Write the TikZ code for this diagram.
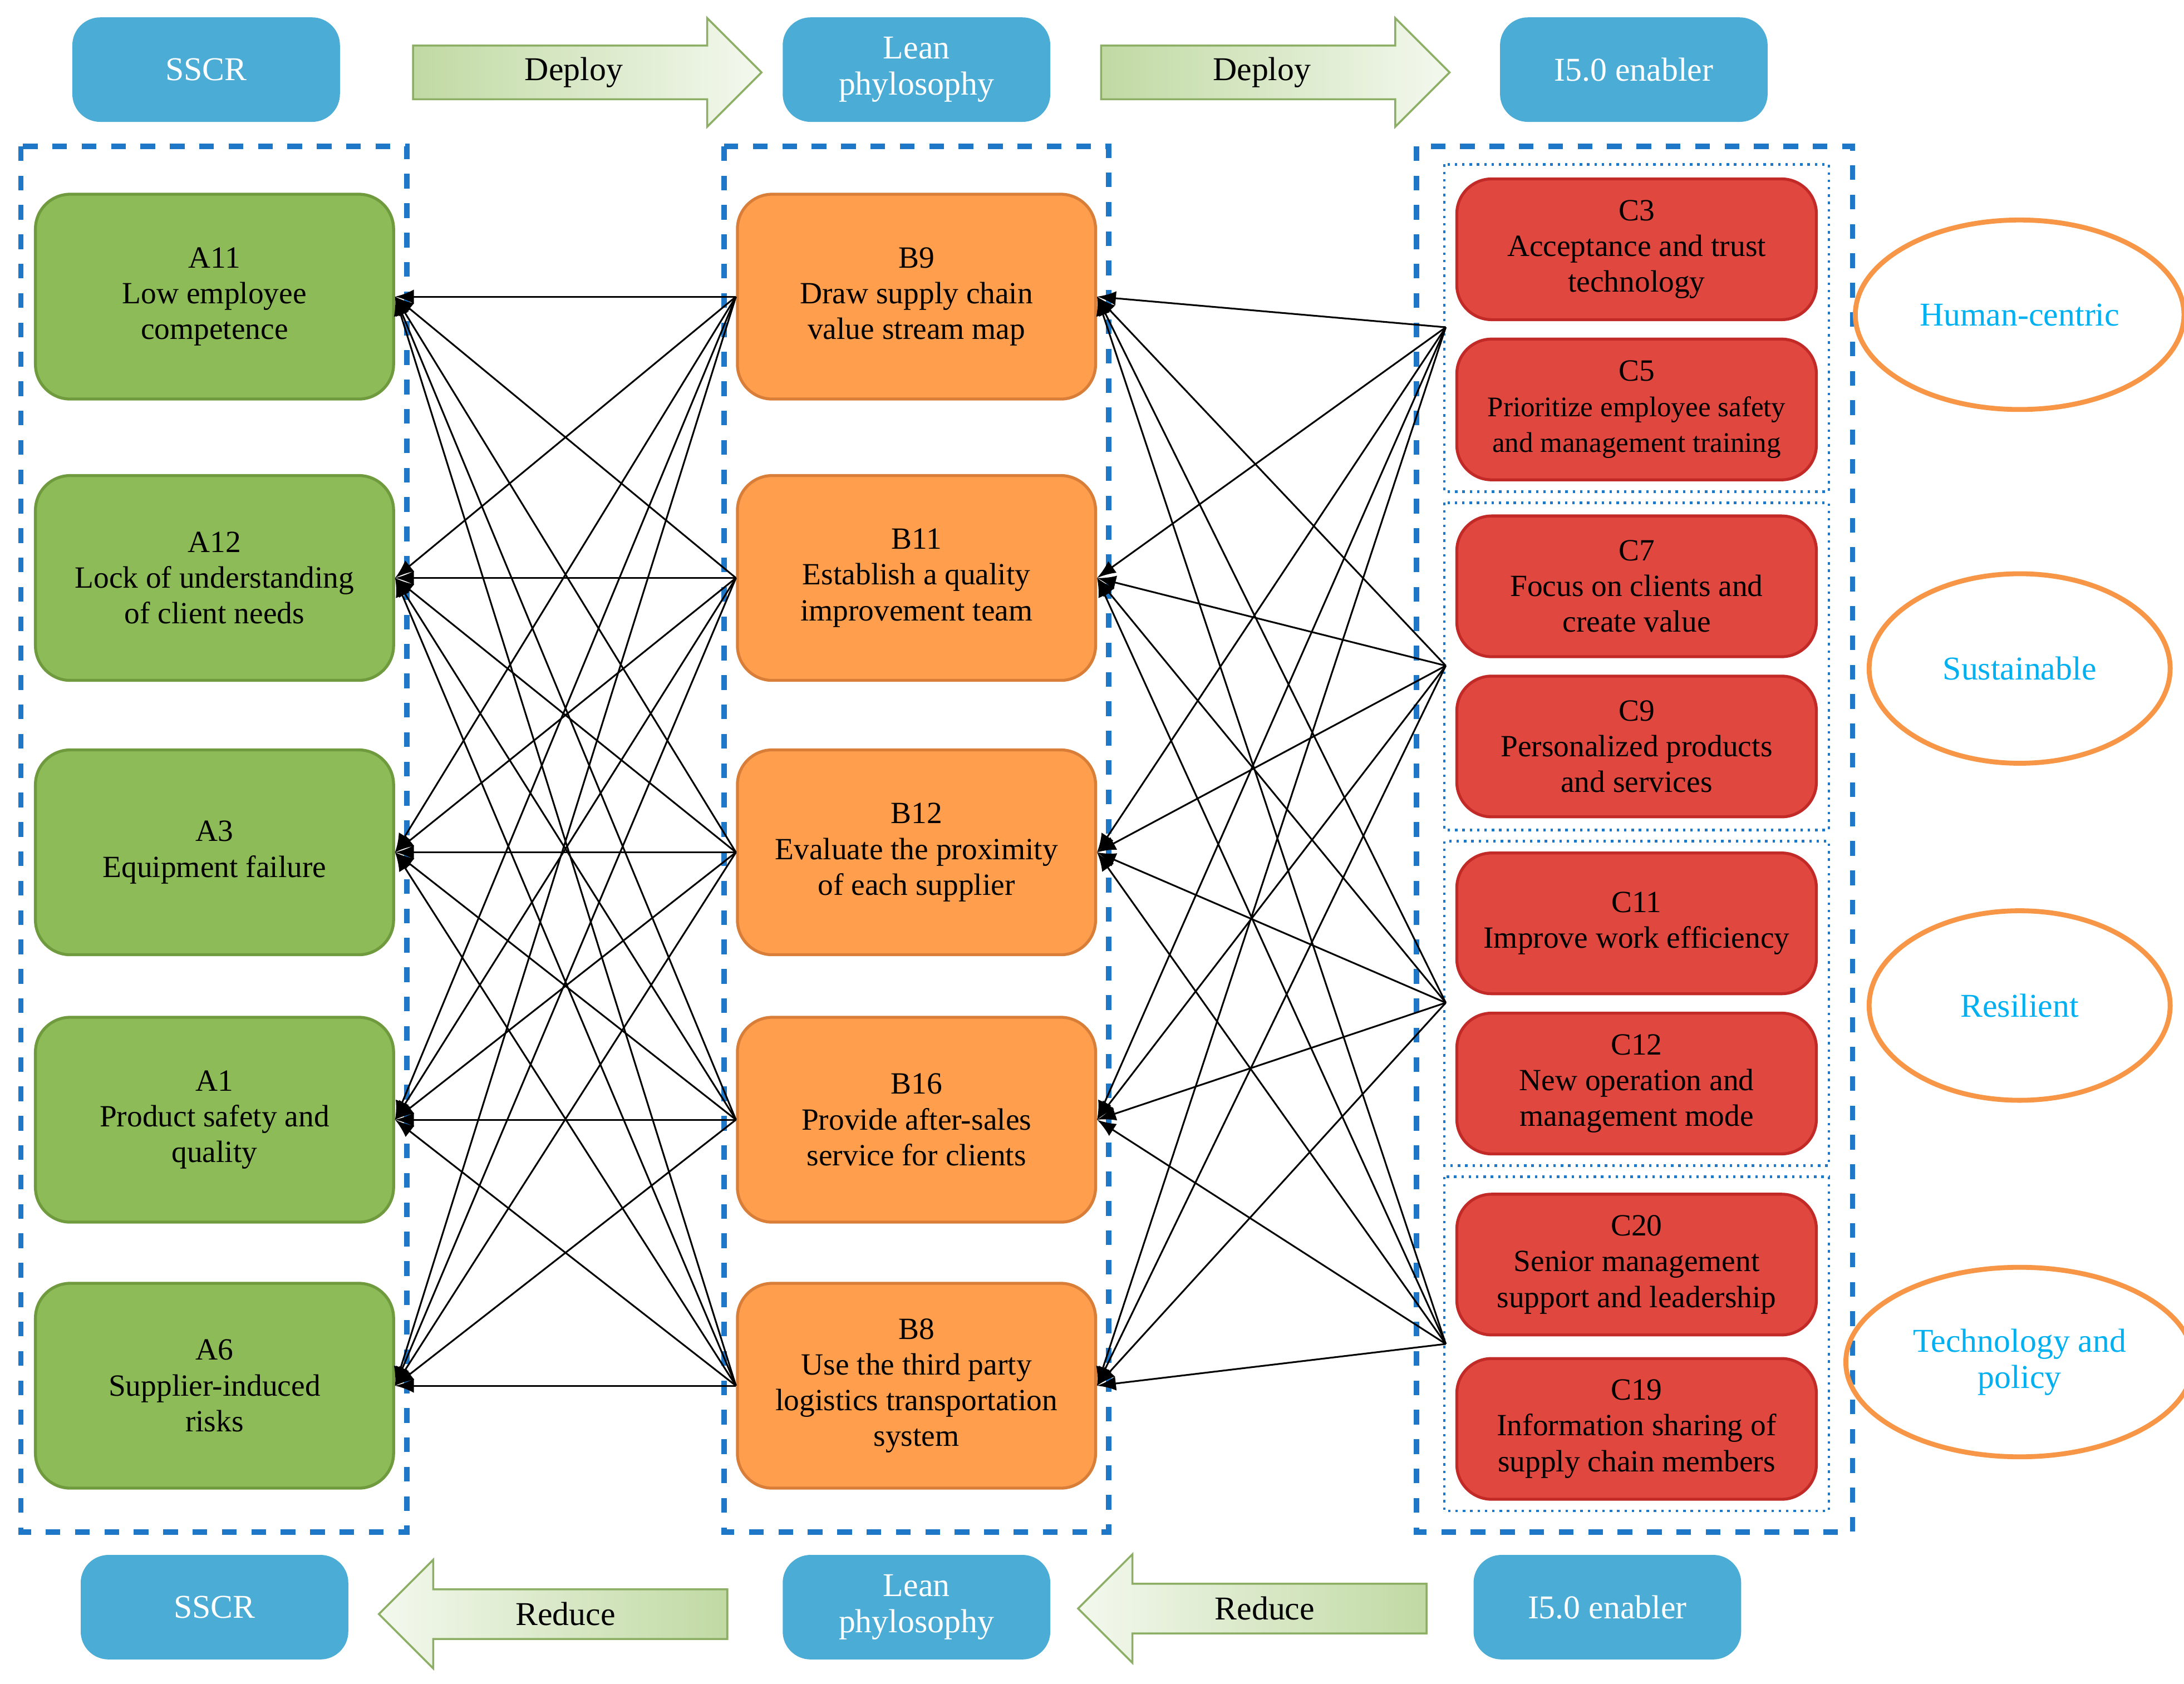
\documentclass[tikz,border=0pt]{standalone}
\usepackage{fontspec}
\setmainfont{Liberation Serif}
\usetikzlibrary{shapes.geometric,shapes.arrows,arrows,positioning}
\definecolor{hdr}{HTML}{4BACD6}
\definecolor{grn}{HTML}{8DBB58}
\definecolor{grnb}{HTML}{6F9A3E}
\definecolor{org}{HTML}{FF9E4C}
\definecolor{orgb}{HTML}{D97E38}
\definecolor{rd}{HTML}{E0483F}
\definecolor{rdb}{HTML}{C22A27}
\definecolor{dash}{HTML}{1F77C8}
\definecolor{cyantext}{HTML}{00B0F0}
\definecolor{ell}{HTML}{F79646}
\begin{document}
\begin{tikzpicture}[
    x=0.01cm, y=-0.01cm,
    >=latex,
    font=\fontsize{6.3}{7.3}\selectfont,
    header/.style={
        rectangle, rounded corners=2mm, fill=hdr, draw=none,
        text=white, align=center, minimum width=1.92cm, minimum height=0.75cm,
        font=\fontsize{6.8}{7.4}\selectfont
    },
    abox/.style={
        rectangle, rounded corners=2.5mm, fill=grn, draw=grnb, line width=0.6pt,
        align=center, minimum width=2.57cm, minimum height=1.47cm
    },
    bbox/.style={abox, fill=org, draw=orgb},
    cbox/.style={abox, fill=rd, draw=rdb, minimum width=2.58cm, minimum height=1.01cm},
    frame/.style={draw=dash, dashed, line width=1.1pt},
    group/.style={draw=dash, densely dotted, line width=0.5pt},
    pillar/.style={ellipse, draw=ell, line width=1pt, text=cyantext,
        minimum width=2.16cm, minimum height=1.36cm, align=center,
        font=\fontsize{6.8}{7.4}\selectfont},
    flow/.style={single arrow, draw=grnb!80, left color=grn!55, right color=grn!10,
        minimum height=2.5cm, minimum width=0.78cm, single arrow head extend=0.18cm,
        inner sep=0.6mm, font=\fontsize{6.8}{7.4}\selectfont},
    back/.style={flow, shape border rotate=180, left color=grn!10, right color=grn!55},
    link/.style={->, line width=0.35pt}
  ]
  \useasboundingbox (0,0) rectangle (1568,1209);

  % headers and flow arrows
  \node [header] (hA) at (148,50) {SSCR};
  \node [header] (hB) at (658,50) {Lean\\phylosophy};
  \node [header] (hC) at (1173,50) {I5.0 enabler};
  \node [flow] (dep1) at (412,52) {Deploy};
  \node [flow] (dep2) at (906,52) {Deploy};

  \node [header] (fA) at (154,1154) {SSCR};
  \node [header] (fB) at (658,1154) {Lean\\phylosophy};
  \node [header] (fC) at (1154,1154) {I5.0 enabler};
  \node [back] (red1) at (406,1159) {Reduce};
  \node [back] (red2) at (908,1155) {Reduce};

  % frames
  \draw [frame] (15,105) rectangle (292,1100);
  \draw [frame] (520,105) rectangle (796,1100);
  \draw [frame] (1017,105) rectangle (1330,1100);
  \draw [group] (1037,118) rectangle (1313,353);
  \draw [group] (1037,361) rectangle (1313,596);
  \draw [group] (1037,604) rectangle (1313,837);
  \draw [group] (1037,845) rectangle (1313,1085);

  % SSCR column
  \node [abox] (a11) at (154,213) {A11\\Low employee\\competence};
  \node [abox] (a12) at (154,415) {A12\\Lock of understanding\\of client needs};
  \node [abox] (a3)  at (154,612) {A3\\Equipment failure};
  \node [abox] (a1)  at (154,804) {A1\\Product safety and\\quality};
  \node [abox] (a6)  at (154,995) {A6\\Supplier-induced\\risks};

  % lean column
  \node [bbox] (b9)  at (658,213) {B9\\Draw supply chain\\value stream map};
  \node [bbox] (b11) at (658,415) {B11\\Establish a quality\\improvement team};
  \node [bbox] (b12) at (658,612) {B12\\Evaluate the proximity\\of each supplier};
  \node [bbox] (b16) at (658,804) {B16\\Provide after-sales\\service for clients};
  \node [bbox] (b8)  at (658,995) {B8\\Use the third party\\logistics transportation\\system};

  % enabler column
  \node [cbox] (c3)  at (1175,179) {C3\\Acceptance and trust\\technology};
  \node [cbox] (c5)  at (1175,294) {C5\\{\fontsize{5.8}{7.3}\selectfont Prioritize employee safety}\\{\fontsize{5.8}{7.3}\selectfont and management training}};
  \node [cbox] (c7)  at (1175,421) {C7\\Focus on clients and\\create value};
  \node [cbox] (c9)  at (1175,536) {C9\\Personalized products\\and services};
  \node [cbox] (c11) at (1175,663) {C11\\Improve work efficiency};
  \node [cbox] (c12) at (1175,778) {C12\\New operation and\\management mode};
  \node [cbox] (c20) at (1175,908) {C20\\Senior management\\support and leadership};
  \node [cbox] (c19) at (1175,1026) {C19\\Information sharing of\\supply chain members};

  \coordinate (g1) at (1038,235);
  \coordinate (g2) at (1038,478);
  \coordinate (g3) at (1038,720);
  \coordinate (g4) at (1038,965);

  % pillars
  \node [pillar] (p1) at (1450,226) {Human-centric};
  \node [pillar] (p2) at (1450,480) {Sustainable};
  \node [pillar] (p3) at (1450,722) {Resilient};
  \node [pillar] (p4) at (1450,978) {Technology and\\policy};

  % lean -> SSCR
  \foreach \b in {b9,b11,b12,b16,b8}
    \foreach \a in {a11,a12,a3,a1,a6}
      \draw [link] (\b.west) -- (\a.east);

  % enablers -> lean
  \foreach \g in {g1,g2,g3,g4}
    \foreach \b in {b9,b11,b12,b16,b8}
      \draw [link] (\g) -- (\b.east);

\end{tikzpicture}
\end{document}
